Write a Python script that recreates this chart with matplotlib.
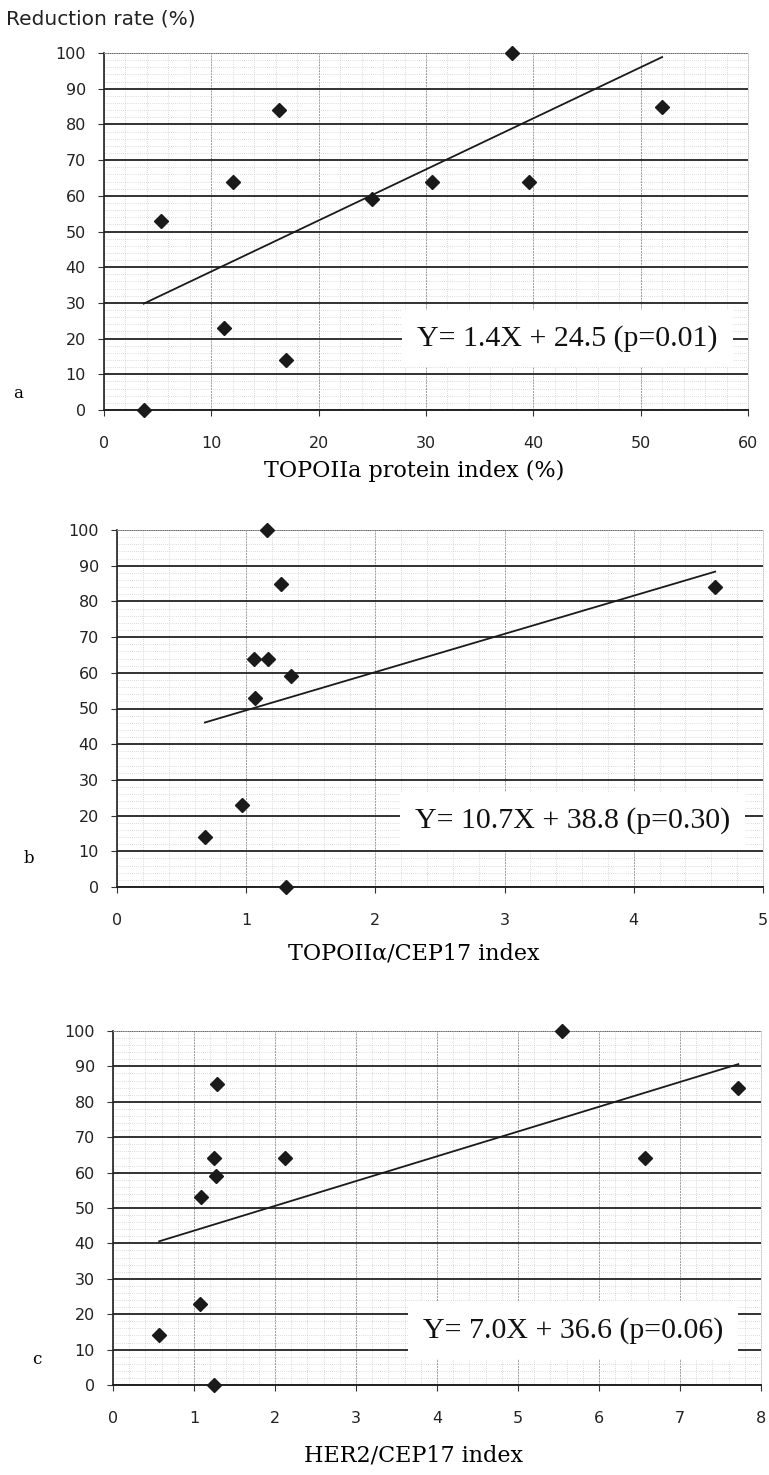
import matplotlib
matplotlib.use("Agg")
import matplotlib.pyplot as plt
from matplotlib.ticker import MultipleLocator

# --- data ---
A_X = [3.7, 5.3, 11.2, 12.0, 16.3, 17.0, 25.0, 30.6, 38.0, 39.6, 52.0]
A_Y = [0, 53, 23, 64, 84, 14, 59, 64, 100, 64, 85]

B_X = [0.68, 1.06, 0.97, 1.07, 1.35, 1.17, 1.16, 1.27, 1.31, 4.63]
B_Y = [14, 64, 23, 53, 59, 64, 100, 85, 0, 84]

C_X = [0.57, 1.08, 1.09, 1.25, 1.27, 1.28, 2.12, 5.54, 6.57, 7.72, 1.25]
C_Y = [14, 23, 53, 64, 59, 85, 64, 100, 64, 84, 0]

# trend line (slope, intercept) and its printed equation
A_FIT = (1.43, 24.5)
B_FIT = (10.7, 38.8)
C_FIT = (7.0, 36.6)
A_EQ = "Y= 1.4X + 24.5 (p=0.01)"
B_EQ = "Y= 10.7X + 38.8 (p=0.30)"
C_EQ = "Y= 7.0X + 36.6 (p=0.06)"

A_XLABEL = "TOPOIIa protein index (%)"
B_XLABEL = "TOPOIIα/CEP17 index"
C_XLABEL = "HER2/CEP17 index"

W, H = 769, 1475


def px_rect(left, right, top, bottom):
    """pixel box -> figure fraction [l, b, w, h]"""
    return [left / W, 1 - bottom / H, (right - left) / W, (bottom - top) / H]


def draw_panel(ax, xs, ys, fit, eq, xmax, xmajor, xminor, eq_pos):
    ax.set_xlim(0, xmax)
    ax.set_ylim(0, 100)
    ax.xaxis.set_major_locator(MultipleLocator(xmajor))
    ax.xaxis.set_minor_locator(MultipleLocator(xminor))
    ax.yaxis.set_major_locator(MultipleLocator(10))
    ax.yaxis.set_minor_locator(MultipleLocator(2))

    # excel style grid: heavy horizontals, light dotted minor lines
    ax.grid(True, axis="y", which="major", color="#222222", lw=1.3)
    ax.grid(True, axis="x", which="major", color="#999999", lw=0.7, ls=(0, (2, 1)))
    ax.grid(True, which="minor", color="#bbbbbb", lw=0.5, ls=(0, (1, 2)))
    ax.set_axisbelow(True)

    ax.plot(xs, ys, ls="none", marker="D", ms=7.5, color="#1a1a1a", zorder=4, clip_on=False)

    x0, x1 = min(xs), max(xs)
    slope, icpt = fit
    ax.plot([x0, x1], [slope * x0 + icpt, slope * x1 + icpt],
            color="#1a1a1a", lw=1.3, zorder=3)

    ax.text(eq_pos[0], eq_pos[1], eq, transform=ax.transAxes, ha="center", va="center",
            fontsize=21.5, family="Liberation Serif", color="#111111", zorder=5,
            bbox=dict(facecolor="white", edgecolor="none", pad=11))

    for side in ["top", "right"]:
        ax.spines[side].set_color("#bbbbbb")
        ax.spines[side].set_linewidth(0.6)
        ax.spines[side].set_linestyle(":")
    ax.spines["left"].set_color("#222222")
    ax.spines["bottom"].set_color("#222222")
    ax.spines["left"].set_linewidth(1.2)
    ax.spines["bottom"].set_linewidth(1.4)

    ax.tick_params(which="major", labelsize=11.5, length=4, width=0.8, color="#333333",
                   labelcolor="#222222")
    ax.tick_params(which="minor", length=0)
    ax.tick_params(axis="x", pad=15)
    ax.tick_params(axis="y", pad=9)


fig = plt.figure(figsize=(W / 100, H / 100), dpi=100)

ax_a = fig.add_axes(px_rect(104, 748, 53, 410))
ax_b = fig.add_axes(px_rect(117, 763, 530, 887))
ax_c = fig.add_axes(px_rect(113, 761, 1031, 1385))

draw_panel(ax_a, A_X, A_Y, A_FIT, A_EQ, 60, 10, 2, (0.72, 0.20))
draw_panel(ax_b, B_X, B_Y, B_FIT, B_EQ, 5, 1, 0.2, (0.705, 0.185))
draw_panel(ax_c, C_X, C_Y, C_FIT, C_EQ, 8, 1, 0.2, (0.71, 0.155))

fig.text(6 / W, 1 - 19 / H, "Reduction rate (%)", fontsize=14.5, va="center",
         family="DejaVu Sans", color="#222222")

serif = "DejaVu Serif"
fig.text(414 / W, 1 - 471 / H, A_XLABEL, ha="center", va="center", fontsize=16, family=serif)
fig.text(414 / W, 1 - 954 / H, B_XLABEL, ha="center", va="center", fontsize=16, family=serif)
fig.text(413 / W, 1 - 1455 / H, C_XLABEL, ha="center", va="center", fontsize=16, family=serif)

fig.text(18 / W, 1 - 393 / H, "a", ha="center", va="center", fontsize=12, family=serif)
fig.text(29 / W, 1 - 858 / H, "b", ha="center", va="center", fontsize=12, family=serif)
fig.text(37 / W, 1 - 1360 / H, "c", ha="center", va="center", fontsize=12, family=serif)

fig.savefig("out.png", dpi=100, facecolor="white")
